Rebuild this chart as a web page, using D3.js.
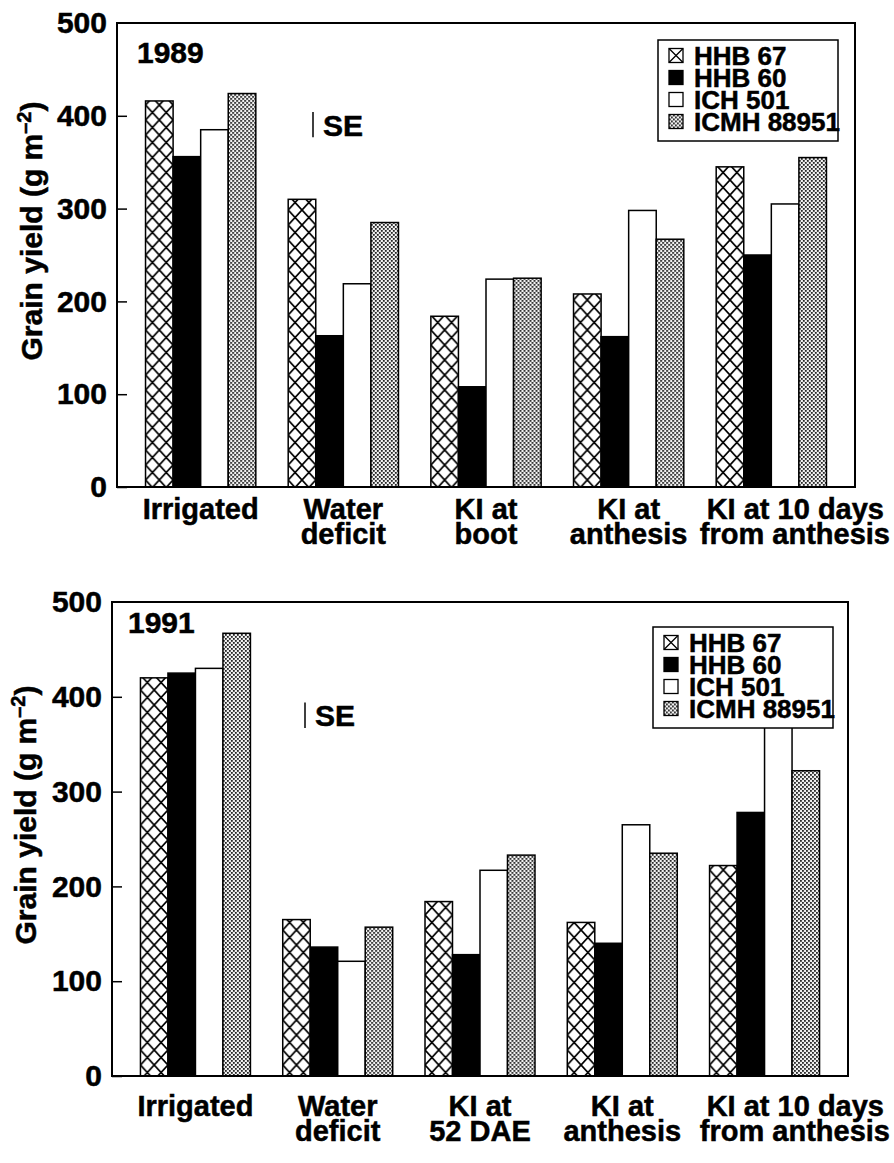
<!DOCTYPE html>
<html>
<head>
<meta charset="utf-8">
<script src="https://cdn.jsdelivr.net/npm/d3@7"></script>
<style>
  body { margin: 0; background: #fff; }
  text { font-family: "Liberation Sans", Arial, Helvetica, sans-serif; font-weight: bold; stroke: #000; stroke-width: 0.5px; }
</style>
</head>
<body>
<script>
// series names, in bar order
const cultivars = ["HHB 67", "HHB 60", "ICH 501", "ICMH 88951"];

// 1989
const categories1989 = ["Irrigated", "Water\ndeficit", "KI at\nboot", "KI at\nanthesis", "KI at 10 days\nfrom anthesis"];
const hhb67_1989 = [416, 310, 184, 208, 345];
const hhb60_1989 = [356, 163, 108, 162, 250];
const ich501_1989 = [385, 219, 224, 298, 305];
const icmh_1989 = [424, 285, 225, 267, 355];

// 1991
const categories1991 = ["Irrigated", "Water\ndeficit", "KI at\n52 DAE", "KI at\nanthesis", "KI at 10 days\nfrom anthesis"];
const hhb67_1991 = [420, 165, 184, 162, 222];
const hhb60_1991 = [425, 136, 128, 140, 278];
const ich501_1991 = [430, 121, 217, 265, 385];
const icmh_1991 = [467, 157, 233, 235, 322];

const yTicks = [0, 100, 200, 300, 400, 500];
const seValue = 27;

const width = 894;
const height = 1163;

const svg = d3.select("body")
  .append("svg")
  .attr("width", width)
  .attr("height", height)
  .style("background", "#fff");

const defs = svg.append("defs");

// stipple pattern for ICMH 88951
let dots = defs.append("pattern")
  .attr("id", "dots")
  .attr("patternUnits", "userSpaceOnUse")
  .attr("width", 4)
  .attr("height", 4);
dots.append("rect").attr("width", 4).attr("height", 4).attr("fill", "#f2f2f2");
dots.append("rect").attr("width", 1.8).attr("height", 1.8).attr("fill", "#222");
dots.append("rect").attr("x", 2).attr("y", 2).attr("width", 1.8).attr("height", 1.8).attr("fill", "#222");

function drawChart(opt) {
  const categories = opt.categories;
  const series = opt.series;

  let x = d3.scaleBand()
    .domain(categories)
    .range([opt.left, opt.right])
    .paddingInner(0.227)
    .paddingOuter(0.2);

  let xInner = d3.scaleBand()
    .domain(cultivars)
    .range([0, x.bandwidth()]);

  let y = d3.scaleLinear()
    .domain([0, 500])
    .range([opt.bottom, opt.top]);

  const bw = xInner.bandwidth();

  // cross hatch sized so two diamonds fit in a bar
  let hatch = defs.append("pattern")
    .attr("id", "hatch" + opt.id)
    .attr("patternUnits", "userSpaceOnUse")
    .attr("width", bw / 2)
    .attr("height", 15);
  hatch.append("rect").attr("width", bw / 2).attr("height", 15).attr("fill", "#fff");
  hatch.append("path")
    .attr("d", `M0,0L${bw / 2},15M${bw / 2},0L0,15`)
    .attr("stroke", "#000")
    .attr("stroke-width", 1.7);

  const fills = ["url(#hatch" + opt.id + ")", "#000", "#fff", "url(#dots)"];

  let g = svg.append("g");

  categories.forEach((c, i) => {
    let grp = g.append("g");
    series.forEach((s, j) => {
      grp.append("g")
        .attr("transform", `translate(${x(c) + xInner(cultivars[j])},0)`)
        .append("rect")
          .attr("x", 0)
          .attr("y", y(s[i]))
          .attr("width", bw)
          .attr("height", y(0) - y(s[i]))
          .attr("fill", fills[j])
          .attr("stroke", "#000")
          .attr("stroke-width", 1.5);
    });
  });

  // frame
  g.append("rect")
    .attr("x", opt.left)
    .attr("y", opt.top)
    .attr("width", opt.right - opt.left)
    .attr("height", opt.bottom - opt.top)
    .attr("fill", "none")
    .attr("stroke", "#000")
    .attr("stroke-width", 2);

  // y axis, ticks pointing inward
  let yAxis = d3.axisLeft(y)
    .tickValues(yTicks)
    .tickSizeInner(-10)
    .tickSizeOuter(0)
    .tickPadding(10);

  g.append("g")
    .attr("transform", `translate(${opt.left},0)`)
    .call(yAxis)
    .call(a => a.select(".domain").remove())
    .call(a => a.selectAll("line").attr("stroke-width", 1.5))
    .call(a => a.selectAll("text")
      .attr("font-size", 30)
      .attr("font-family", null)
      .attr("fill", "#000"));

  g.select(".tick:last-of-type line").remove();

  // axis title
  let title = g.append("text")
    .attr("transform", `translate(${opt.titleX},${(opt.top + opt.bottom) / 2 - 24}) rotate(-90)`)
    .attr("text-anchor", "middle")
    .attr("font-size", 30);
  title.append("tspan").text("Grain yield (g m");
  title.append("tspan").attr("dy", -11).attr("font-size", 20).text("–2");
  title.append("tspan").attr("dy", 11).text(")");

  // category labels (the last one is pushed against the right edge)
  categories.forEach((c, i) => {
    let lines = c.split("\n");
    let last = i === categories.length - 1;
    let cx = last ? width - 4 : x(c) + x.bandwidth() / 2;
    let t = g.append("text")
      .attr("text-anchor", last ? "end" : "middle")
      .attr("font-size", 29)
      .attr("y", opt.bottom + opt.labelDy);
    lines.forEach((l, k) => {
      t.append("tspan")
        .attr("x", last && k === 0 ? cx - 6 : cx)
        .attr("dy", k === 0 ? 0 : 25)
        .text(l);
    });
  });

  // year
  g.append("text")
    .attr("x", opt.left + opt.yearDx)
    .attr("y", opt.top + opt.yearDy)
    .attr("font-size", 30)
    .text(opt.year);

  // SE marker
  g.append("line")
    .attr("x1", opt.seX).attr("x2", opt.seX)
    .attr("y1", y(opt.seAt))
    .attr("y2", y(opt.seAt - seValue))
    .attr("stroke", "#000")
    .attr("stroke-width", 1.5);
  g.append("text")
    .attr("x", opt.seX + 10)
    .attr("y", (y(opt.seAt) + y(opt.seAt - seValue)) / 2 + 11)
    .attr("font-size", 30)
    .text("SE");

  // legend
  let lx = opt.right - opt.legendRight - 180;
  let ly = opt.top + opt.legendTop;
  let legend = g.append("g").attr("transform", `translate(${lx},${ly})`);
  legend.append("rect")
    .attr("width", 180)
    .attr("height", 101)
    .attr("fill", "#fff")
    .attr("stroke", "#000")
    .attr("stroke-width", 1.5);

  cultivars.forEach((name, j) => {
    let cy = 15.5 + j * 22;
    let sw = legend.append("g").attr("transform", `translate(11,${cy - 7})`);
    sw.append("rect")
      .attr("width", 14).attr("height", 14)
      .attr("fill", j === 0 ? "#fff" : fills[j])
      .attr("stroke", "#000")
      .attr("stroke-width", 1.3);
    if (j === 0) {
      sw.append("path").attr("d", "M0,0L14,14M14,0L0,14").attr("stroke", "#000").attr("stroke-width", 1.3);
    }
    legend.append("text")
      .attr("x", 36)
      .attr("y", cy + 9.5)
      .attr("font-size", 26)
      .text(name);
  });
}

drawChart({
  id: 0, year: "1989",
  categories: categories1989,
  series: [hhb67_1989, hhb60_1989, ich501_1989, icmh_1989],
  left: 117, right: 855, top: 23, bottom: 487,
  labelDy: 32, titleX: 42, yearDx: 20, yearDy: 40,
  seX: 313, seAt: 404, legendRight: 17, legendTop: 17
});

drawChart({
  id: 1, year: "1991",
  categories: categories1991,
  series: [hhb67_1991, hhb60_1991, ich501_1991, icmh_1991],
  left: 112, right: 848, top: 602, bottom: 1076,
  labelDy: 40, titleX: 36, yearDx: 16, yearDy: 31,
  seX: 305, seAt: 394, legendRight: 15, legendTop: 25
});
</script>
</body>
</html>
